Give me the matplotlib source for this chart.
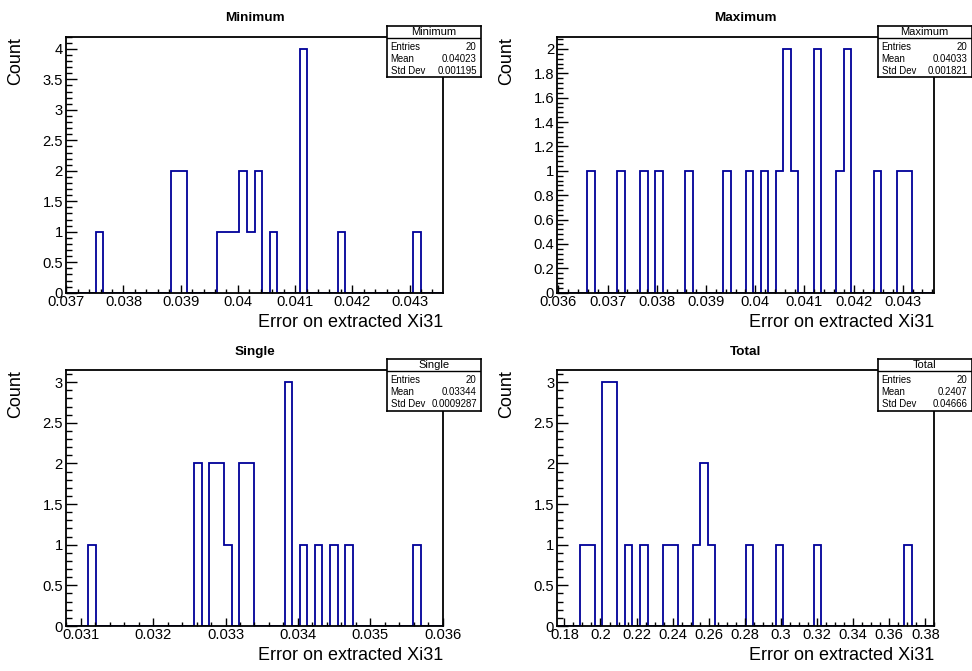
import matplotlib
matplotlib.use('Agg')
import numpy as np
import matplotlib.pyplot as plt
from matplotlib.ticker import MultipleLocator, FormatStrFormatter

plt.rcParams['font.family'] = ['Liberation Sans', 'DejaVu Sans']

# ---- data (50 bins per histogram) ----
titles = ['Minimum', 'Maximum', 'Single', 'Total']
x_ranges = [(0.03699, 0.04359), (0.03597, 0.04364), (0.03079, 0.03601), (0.1759, 0.3850)]

counts_min = [0, 0, 0, 0, 1, 0, 0, 0, 0, 0,
              0, 0, 0, 0, 2, 2, 0, 0, 0, 0,
              1, 1, 1, 2, 1, 2, 0, 1, 0, 0,
              0, 4, 0, 0, 0, 0, 1, 0, 0, 0,
              0, 0, 0, 0, 0, 0, 1, 0, 0, 0]
counts_max = [0, 0, 0, 0, 1, 0, 0, 0, 1, 0,
              0, 1, 0, 1, 0, 0, 0, 1, 0, 0,
              0, 0, 1, 0, 0, 1, 0, 1, 0, 1,
              2, 1, 0, 0, 2, 0, 0, 1, 2, 0,
              0, 0, 1, 0, 0, 1, 1, 0, 0, 0]
counts_single = [0, 0, 0, 1, 0, 0, 0, 0, 0, 0,
                 0, 0, 0, 0, 0, 0, 0, 2, 0, 2,
                 2, 1, 0, 2, 2, 0, 0, 0, 0, 3,
                 0, 1, 0, 1, 0, 1, 0, 1, 0, 0,
                 0, 0, 0, 0, 0, 0, 1, 0, 0, 0]
counts_total = [0, 0, 0, 1, 1, 0, 3, 3, 0, 1,
                0, 1, 0, 0, 1, 1, 0, 0, 1, 2,
                1, 0, 0, 0, 0, 1, 0, 0, 0, 1,
                0, 0, 0, 0, 1, 0, 0, 0, 0, 0,
                0, 0, 0, 0, 0, 0, 1, 0, 0, 0]
all_counts = [counts_min, counts_max, counts_single, counts_total]

entries = ['20', '20', '20', '20']
means = ['0.04023', '0.04033', '0.03344', '0.2407']
stddevs = ['0.001195', '0.001821', '0.0009287', '0.04666']

# ---- styling per panel ----
x_major = [0.001, 0.001, 0.001, 0.02]
x_minor = [0.0002, 0.0002, 0.0002, 0.005]
y_major = [0.5, 0.2, 0.5, 0.5]
y_minor = [0.1, 0.04, 0.1, 0.1]

W, H = 972, 671
# axes frames in pixels: left, top, right, bottom
frames = [(65.7, 36.7, 443.3, 292.7), (557, 36.7, 934.3, 292.7),
          (65.7, 370, 443.3, 626), (557, 370, 934.3, 626)]
# stat boxes in pixels: left, top, right, bottom
boxes = [(386.7, 26, 481, 77.3), (877.7, 26, 971.7, 77.3),
         (386.7, 359, 481, 410.7), (877.7, 359, 971.7, 410.7)]

hist_color = '#000099'

fig = plt.figure(figsize=(W / 100, H / 100), dpi=100)
fig.patch.set_facecolor('white')

for i in range(4):
    l, t, r, b = frames[i]
    ax = fig.add_axes([l / W, 1 - b / H, (r - l) / W, (b - t) / H])
    xmin, xmax = x_ranges[i]
    c = np.array(all_counts[i])
    edges = np.linspace(xmin, xmax, len(c) + 1)
    ax.stairs(c, edges, color=hist_color, linewidth=1.3, baseline=0)
    ax.set_xlim(xmin, xmax)
    ax.set_ylim(0, c.max() * 1.05)

    ax.xaxis.set_major_locator(MultipleLocator(x_major[i]))
    ax.xaxis.set_minor_locator(MultipleLocator(x_minor[i]))
    ax.yaxis.set_major_locator(MultipleLocator(y_major[i]))
    ax.yaxis.set_minor_locator(MultipleLocator(y_minor[i]))
    ax.xaxis.set_major_formatter(FormatStrFormatter('%g'))
    ax.yaxis.set_major_formatter(FormatStrFormatter('%g'))

    ax.tick_params(axis='both', which='both', direction='in', top=False, right=False,
                   labelsize=10.6, width=1.0, colors='black')
    ax.tick_params(axis='x', which='major', length=5.5, pad=1.5)
    ax.tick_params(axis='x', which='minor', length=2.8)
    ax.tick_params(axis='y', which='major', length=8.1, pad=2)
    ax.tick_params(axis='y', which='minor', length=4.1)
    for s in ax.spines.values():
        s.set_linewidth(1.3)

    ax.set_title(titles[i], fontsize=9.7, fontweight='bold', pad=11)
    ax.set_xlabel('Error on extracted Xi31', fontsize=13, loc='right')
    ax.xaxis.set_label_coords(1.0, -0.083)
    ax.set_ylabel('Count', fontsize=13, loc='top')
    ax.yaxis.set_label_coords(-0.11, 1.0)

    # stat box
    bl, bt, br, bb = boxes[i]
    sb = fig.add_axes([bl / W, 1 - bb / H, (br - bl) / W, (bb - bt) / H])
    sb.set_xticks([])
    sb.set_yticks([])
    sb.set_xlim(0, 1)
    sb.set_ylim(0, 1)
    sb.set_facecolor('white')
    for s in sb.spines.values():
        s.set_linewidth(1.2)
    sb.axhline(0.76, color='black', linewidth=1.0)
    sb.text(0.5, 0.885, titles[i], ha='center', va='center', fontsize=8)
    rows = [('Entries', entries[i]), ('Mean', means[i]), ('Std Dev', stddevs[i])]
    ys = [0.596, 0.363, 0.125]
    for (lab, val), y in zip(rows, ys):
        sb.text(0.042, y, lab, ha='left', va='center', fontsize=6.9)
        sb.text(0.955, y, val, ha='right', va='center', fontsize=6.9)

fig.savefig('out.png', dpi=100, facecolor='white')
